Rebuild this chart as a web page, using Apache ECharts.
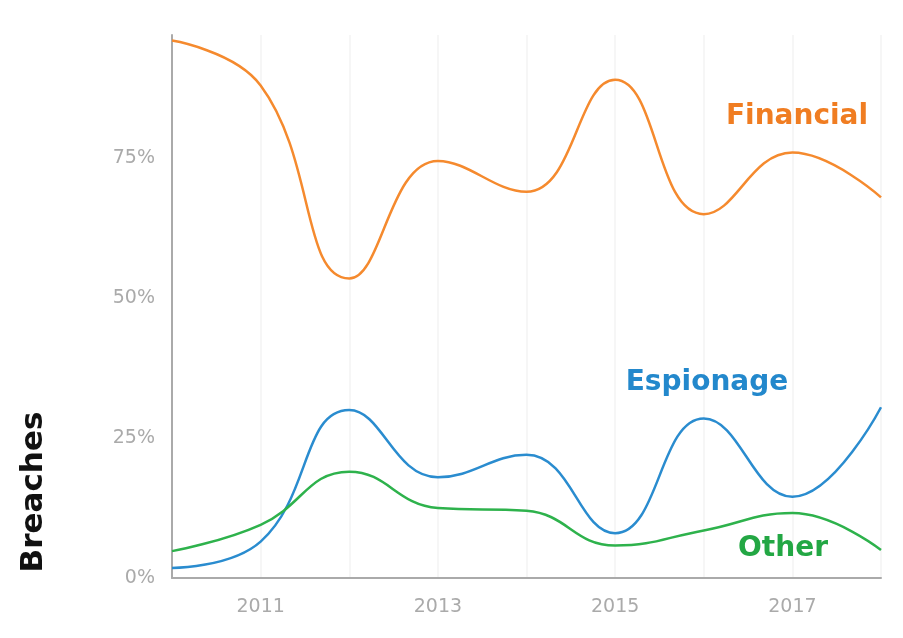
<!DOCTYPE html>
<html>
<head>
<meta charset="utf-8">
<script src="https://cdn.jsdelivr.net/npm/echarts@6/dist/echarts.min.js"></script>
<style>
  html, body { margin: 0; padding: 0; background: #fff; }
  #chart { width: 903px; height: 638px; }
</style>
</head>
<body>
<div id="chart"></div>
<script>
    'use strict';

    var years = [2010, 2011, 2012, 2013, 2014, 2015, 2016, 2017, 2018];
    var financial = [96, 88, 53.5, 74.5, 69, 89, 65, 76, 68];
    var espionage = [1.8, 6.5, 30, 18, 22, 8, 28.5, 14.5, 30.5];
    var other = [4.8, 9.5, 19, 12.5, 12, 5.8, 8.5, 11.6, 5];
    var yTicks = [0, 25, 50, 75];

    var pairs = function (vals) {
        var out = [];
        for (var i = 0; i < years.length; i++)
            out.push([years[i], vals[i]]);
        return out;
    };

    var lineSeries = function (name, vals, color) {
        return {
            name: name,
            type: 'line',
            data: pairs(vals),
            smooth: 0.45,
            symbol: 'none',
            lineStyle: { color: color, width: 2.5 },
            z: 3
        };
    };

    var labelFont = function (size) {
        return 'bold ' + size + 'px "DejaVu Sans"';
    };

    var option = {
        backgroundColor: '#fff',
        animation: false,
        grid: { left: 172, right: 22, top: 35, bottom: 60 },
        xAxis: {
            type: 'value',
            min: 2010,
            max: 2018,
            interval: 1,
            axisLine: { show: true, lineStyle: { color: '#aaa', width: 2 } },
            axisTick: { show: false },
            axisLabel: {
                color: '#aaa',
                fontSize: 19,
                fontFamily: 'DejaVu Sans',
                margin: 20,
                formatter: function (v) { return v % 2 === 1 ? String(v) : ''; }
            },
            splitLine: { show: true, lineStyle: { color: '#f6f6f6', width: 2 } }
        },
        yAxis: {
            type: 'value',
            min: 0,
            max: 97,
            axisLine: { show: true, lineStyle: { color: '#aaa', width: 2 } },
            axisTick: { show: false },
            splitLine: { show: false },
            axisLabel: {
                color: '#aaa',
                fontSize: 19,
                fontFamily: 'DejaVu Sans',
                margin: 17,
                customValues: yTicks,
                formatter: function (v) { return v + '%'; }
            }
        },
        series: [
            lineSeries('Financial', financial, '#f58a2e'),
            lineSeries('Espionage', espionage, '#2a8ccf'),
            lineSeries('Other', other, '#2eb24c')
        ],
        graphic: [
            {
                type: 'text', x: 34, y: 492, rotation: Math.PI / 2, z: 100,
                style: { text: 'Breaches', fill: '#111', font: labelFont(31), align: 'center', verticalAlign: 'middle' }
            },
            {
                type: 'text', x: 797, y: 117, z: 100,
                style: { text: 'Financial', fill: '#f07d22', font: labelFont(28), align: 'center', verticalAlign: 'middle' }
            },
            {
                type: 'text', x: 707, y: 383, z: 100,
                style: { text: 'Espionage', fill: '#2388cc', font: labelFont(28), align: 'center', verticalAlign: 'middle' }
            },
            {
                type: 'text', x: 783, y: 549, z: 100,
                style: { text: 'Other', fill: '#23a744', font: labelFont(28), align: 'center', verticalAlign: 'middle' }
            }
        ]
    };

    echarts.init(document.getElementById('chart')).setOption(option, true);
</script>
</body>
</html>
